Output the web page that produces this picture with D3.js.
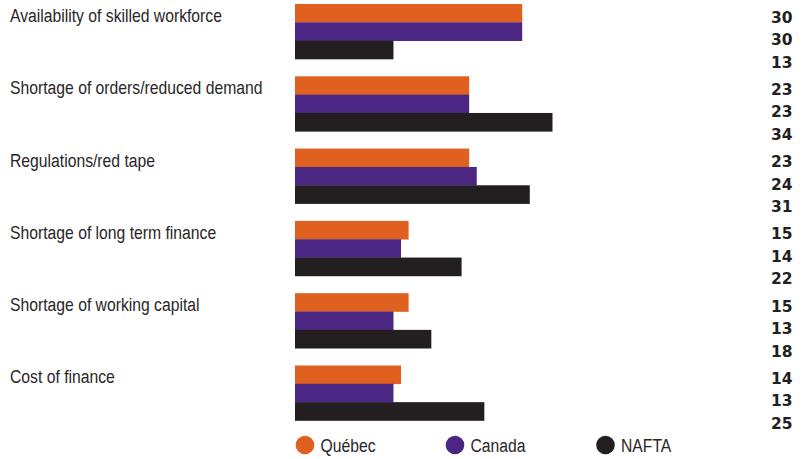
<!DOCTYPE html>
<html>
<head>
<meta charset="utf-8">
<script src="https://cdn.jsdelivr.net/npm/d3@7"></script>
<style>
  html, body { margin: 0; padding: 0; background: #fff; }
  svg { display: block; }
  .cat, .legend text { font-family: "Liberation Sans", Arial, sans-serif; font-size: 18.5px; fill: #2a2627; }
  .val { font-family: "DejaVu Sans", sans-serif; font-weight: bold; font-size: 15.5px; fill: #231f20; }
</style>
</head>
<body>
<svg id="chart" width="807" height="459"></svg>
<script>
// Obstacles to growth, % of respondents
const categories = [
  "Availability of skilled workforce",
  "Shortage of orders/reduced demand",
  "Regulations/red tape",
  "Shortage of long term finance",
  "Shortage of working capital",
  "Cost of finance"
];
const seriesNames = ["Québec", "Canada", "NAFTA"];
const quebec = [30, 23, 23, 15, 15, 14];
const canada = [30, 23, 24, 14, 13, 13];
const nafta  = [13, 34, 31, 22, 18, 25];
const colors = ["#e0601f", "#4b2683", "#231f20"];

const values = [quebec, canada, nafta];
const svg = d3.select("#chart");
const narrow = 0.85; // horizontal squeeze for the condensed label face

const y = d3.scaleBand()
  .domain(categories)
  .range([4, 420.5])
  .paddingInner(0.239)
  .paddingOuter(0);

const ySub = d3.scaleBand()
  .domain(seriesNames)
  .range([0, y.bandwidth()])
  .padding(0);

const x = d3.scaleLinear().domain([0, 34]).range([295, 552.5]);

const groups = svg.selectAll("g.group")
  .data(categories)
  .join("g")
  .attr("class", "group")
  .attr("transform", d => `translate(0,${y(d)})`);

// category label
groups.append("text")
  .attr("class", "cat")
  .attr("transform", `translate(10,18) scale(${narrow},1)`)
  .text(d => d);

// bars and value labels
groups.each(function(cat, ci) {
  const g = d3.select(this);
  seriesNames.forEach((s, si) => {
    const v = values[si][ci];
    g.append("rect")
      .attr("x", x(0))
      .attr("y", ySub(s))
      .attr("width", x(v) - x(0))
      .attr("height", ySub.bandwidth() + 0.3)
      .attr("fill", colors[si]);
    g.append("text")
      .attr("class", "val")
      .attr("x", 792.5)
      .attr("y", 18.5 + si * 22.5)
      .attr("text-anchor", "end")
      .text(v);
  });
});

// legend
const legendX = [305, 455, 605.5];
const legend = svg.append("g").attr("class", "legend");
seriesNames.forEach((s, i) => {
  legend.append("circle")
    .attr("cx", legendX[i])
    .attr("cy", 445)
    .attr("r", 9.3)
    .attr("fill", colors[i]);
  legend.append("text")
    .attr("transform", `translate(${legendX[i] + 15.5},451.5) scale(${narrow},1)`)
    .text(s);
});
</script>
</body>
</html>
